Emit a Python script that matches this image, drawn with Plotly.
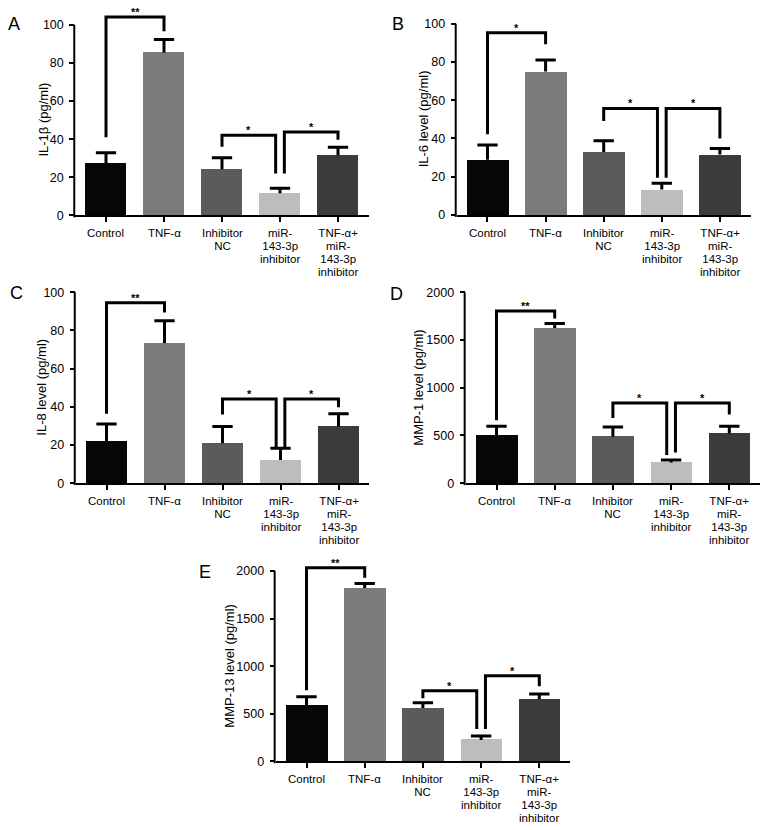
import plotly.graph_objects as go

W, H = 765, 830
FONT = "Liberation Sans, Arial, Helvetica, sans-serif"

# ---------------- data ----------------
categories = ["Control", "TNF-α", "Inhibitor<br>NC",
              "miR-<br>143-3p<br>inhibitor",
              "TNF-α+<br>miR-<br>143-3p<br>inhibitor"]
bar_colors = ["#060606", "#7b7b7b", "#5b5b5b", "#bdbdbd", "#3b3b3b"]

il1b_mean = [27.4, 85.4, 24.2, 11.6, 31.6]
il1b_upper = [32.8, 92.2, 30.2, 14.3, 35.8]
il1b_sig = [(0, 1, 104.0, 41.0, 96.6, "**"),
            (2, 3, 42.0, 36.0, 22.0, "*"),
            (3, 4, 43.8, 22.0, 39.7, "*")]

il6_mean = [28.8, 75.0, 32.9, 13.3, 31.6]
il6_upper = [36.6, 81.0, 38.8, 16.6, 34.7]
il6_sig = [(0, 1, 95.3, 42.2, 89.3, "*"),
           (2, 3, 55.7, 49.1, 19.5, "*"),
           (3, 4, 55.7, 19.5, 40.0, "*")]

il8_mean = [21.7, 73.4, 20.9, 12.1, 29.7]
il8_upper = [31.0, 85.0, 29.7, 18.3, 36.4]
il8_sig = [(0, 1, 94.5, 36.4, 89.3, "**"),
           (2, 3, 44.1, 35.9, 18.6, "*"),
           (3, 4, 44.1, 18.6, 39.7, "*")]

mmp1_mean = [496, 1626, 485, 215, 520]
mmp1_upper = [596, 1671, 589, 243, 596]
mmp1_sig = [(0, 1, 1802, 659, 1723, "**"),
            (2, 3, 839, 683, 295, "*"),
            (3, 4, 839, 322, 718, "*")]

mmp13_mean = [586, 1821, 559, 224, 655]
mmp13_upper = [679, 1869, 614, 266, 707]
mmp13_sig = [(0, 1, 2034, 748, 1931, "**"),
             (2, 3, 741, 662, 338, "*"),
             (3, 4, 900, 338, 790, "*")]

ticks_100 = [0, 20, 40, 60, 80, 100]
ticks_2000 = [0, 500, 1000, 1500, 2000]

# ---------------- panel geometry (reference pixels) ----------------
panels = [
    dict(letter="A", title="IL-1β (pg/ml)", mean=il1b_mean, upper=il1b_upper, sig=il1b_sig,
         ticks=ticks_100, top=107, c0=106.0, sp=58.0, y0=215.0, ytop=22.0,
         title_x=43.5, letter_xy=(14.5, 21.5)),
    dict(letter="B", title="IL-6 level (pg/ml)", mean=il6_mean, upper=il6_upper, sig=il6_sig,
         ticks=ticks_100, top=102, c0=487.5, sp=58.1, y0=214.5, ytop=21.0,
         title_x=423.0, letter_xy=(397.5, 21.5)),
    dict(letter="C", title="IL-8 level (pg/ml)", mean=il8_mean, upper=il8_upper, sig=il8_sig,
         ticks=ticks_100, top=102, c0=106.5, sp=58.0, y0=486.0, ytop=292.7,
         title_x=42.0, letter_xy=(16.5, 294.0)),
    dict(letter="D", title="MMP-1 level (pg/ml)", mean=mmp1_mean, upper=mmp1_upper, sig=mmp1_sig,
         ticks=ticks_2000, top=2040, c0=496.5, sp=58.2, y0=486.0, ytop=292.7,
         title_x=419.0, letter_xy=(396.5, 294.5)),
    dict(letter="E", title="MMP-13 level (pg/ml)", mean=mmp13_mean, upper=mmp13_upper, sig=mmp13_sig,
         ticks=ticks_2000, top=2080, c0=306.5, sp=58.2, y0=767.5, ytop=575.0,
         title_x=229.5, letter_xy=(205.0, 575.5)),
]

XMIN, XMAX = -0.53, 4.53
BAR_W = 0.715
CAP = 0.175
LW = 3
SHARE = 0.075
LABEL_BASE = 10     # sets the line pitch (1.3 x 10 px = 13 px)
LABEL_SIZE = 11.5   # glyph size of the category labels


def px(xp):
    return xp / W


def py(yp):
    return 1 - yp / H


fig = go.Figure()
annotations = []
shapes = []
layout = {}

for k, p in enumerate(panels, start=1):
    xa = "x" if k == 1 else f"x{k}"
    ya = "y" if k == 1 else f"y{k}"
    xkey = "xaxis" if k == 1 else f"xaxis{k}"
    ykey = "yaxis" if k == 1 else f"yaxis{k}"
    n = len(categories)
    xs = list(range(n))

    tickmax = p["ticks"][-1]
    px_per_unit = (p["y0"] - p["ytop"]) / tickmax
    dom_top_px = p["y0"] - p["top"] * px_per_unit
    xl = p["c0"] + XMIN * p["sp"]
    xr = p["c0"] + XMAX * p["sp"]

    layout[xkey] = dict(domain=[max(0, px(xl)), min(1, px(xr))], range=[XMIN, XMAX], anchor=ya,
                        showline=True, linewidth=2, linecolor="black",
                        ticks="outside", tickvals=xs, ticklen=5, tickwidth=2,
                        tickcolor="black", showticklabels=False,
                        showgrid=False, zeroline=False, fixedrange=True)
    layout[ykey] = dict(domain=[max(0, py(p["y0"])), min(1, py(dom_top_px))],
                        range=[0, p["top"]], anchor=xa,
                        showline=False, ticks="outside", tickvals=p["ticks"],
                        ticklen=5, tickwidth=2, tickcolor="black", ticklabelstandoff=3,
                        tickfont=dict(family=FONT, size=12.5, color="black"),
                        showgrid=False, zeroline=False, fixedrange=True)

    # y-axis line from 0 up to the top tick only
    shapes.append(dict(type="line", xref="paper", yref="paper",
                       x0=px(xl - 1), x1=px(xl - 1),
                       y0=py(p["y0"] + 2), y1=py(p["ytop"]),
                       line=dict(color="black", width=2)))

    # bars
    fig.add_trace(go.Bar(x=xs, y=p["mean"], width=BAR_W,
                         marker=dict(color=bar_colors, line=dict(width=0)),
                         xaxis=xa, yaxis=ya, showlegend=False, hoverinfo="skip"))

    # upper error bars (mean -> mean + SEM, with cap)
    ex, ey = [], []
    for i, (m, u) in enumerate(zip(p["mean"], p["upper"])):
        ex += [i, i, None, i - CAP, i + CAP, None]
        ey += [m, u, None, u, u, None]
    fig.add_trace(go.Scatter(x=ex, y=ey, mode="lines", xaxis=xa, yaxis=ya,
                             line=dict(color="black", width=LW),
                             showlegend=False, hoverinfo="skip"))

    # significance brackets
    starts = [s[0] for s in p["sig"]]
    ends = [s[1] for s in p["sig"]]
    for (i, j, top, yl, yr, lab) in p["sig"]:
        xi = i + (SHARE if i in ends else 0)
        xj = j - (SHARE if j in starts else 0)
        fig.add_trace(go.Scatter(x=[xi, xi, xj, xj], y=[yl, top, top, yr],
                                 mode="lines", xaxis=xa, yaxis=ya,
                                 line=dict(color="black", width=LW),
                                 showlegend=False, hoverinfo="skip"))
        annotations.append(dict(x=(xi + xj) / 2, y=top, xref=xa, yref=ya,
                                text=f"<b>{lab}</b>", showarrow=False, yanchor="middle",
                                yshift=5, borderpad=0,
                                font=dict(family=FONT, size=11, color="#000000")))

    # category labels: one text per label, tight line pitch like the reference
    for i, lab in enumerate(categories):
        txt = "<br>".join(f"<span style='font-size:{LABEL_SIZE}px'>{line}</span>"
                          for line in lab.split("<br>"))
        annotations.append(dict(x=i, y=0, xref=xa, yref=ya, text=txt,
                                showarrow=False, xanchor="center", yanchor="top",
                                align="center", borderpad=0, yshift=-10.6,
                                font=dict(family=FONT, size=LABEL_BASE, color="black")))

    # y-axis title
    annotations.append(dict(x=px(p["title_x"]), y=py((p["y0"] + p["ytop"]) / 2),
                            xref="paper", yref="paper", text=p["title"], textangle=-90,
                            showarrow=False, xanchor="center", yanchor="middle",
                            font=dict(family=FONT, size=13, color="black")))
    # panel letter
    lx, ly = p["letter_xy"]
    annotations.append(dict(x=px(lx), y=py(ly), xref="paper", yref="paper",
                            text=p["letter"], showarrow=False, xanchor="center",
                            yanchor="middle", font=dict(family=FONT, size=18, color="black")))

fig.update_layout(width=W, height=H, margin=dict(l=0, r=0, t=0, b=0),
                  paper_bgcolor="white", plot_bgcolor="rgba(0,0,0,0)",
                  annotations=annotations, shapes=shapes, bargap=0,
                  font=dict(family=FONT, color="black"), **layout)

# remove the default page margin so the figure sits at the window's top-left corner
fig.write_html("out.html", config={"displayModeBar": False},
               post_script="document.body.style.margin='0px';")
